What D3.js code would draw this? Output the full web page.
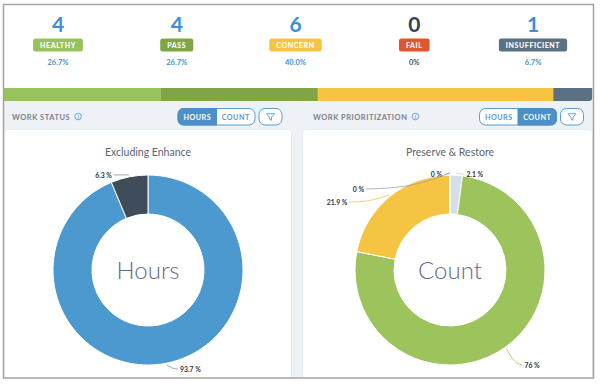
<!DOCTYPE html>
<html><head><meta charset="utf-8">
<script src="https://cdn.jsdelivr.net/npm/d3@7"></script>
<style>
html,body{margin:0;padding:0;background:#fff;}
svg{display:block;font-family:Lato,"Open Sans",sans-serif;}
</style></head>
<body><svg id="c" width="600" height="384"></svg>
<script>
// ---------- DATA ----------
const statusCategories = ["HEALTHY", "PASS", "CONCERN", "FAIL", "INSUFFICIENT"];
const statusCounts = [4, 4, 6, 0, 1];
const statusPercents = ["26.7%", "26.7%", "40.0%", "0%", "6.7%"];
const statusColors = ["#98c25b", "#7fa546", "#f6c443", "#e0572f", "#5b7183"];

const workStatusTitle = "Excluding Enhance";
const workStatusCenter = "Hours";
const workStatusValues = [93.7, 6.3];
const workStatusColors = ["#4c99cf", "#3e4d59"];

const prioritizationTitle = "Preserve & Restore";
const prioritizationCenter = "Count";
const prioritizationValues = [2.1, 76, 21.9, 0, 0];
const prioritizationColors = ["#d4dfe9", "#9dc45c", "#f6c443", "#e0572f", "#5b7183"];

const sectionTitles = ["WORK STATUS", "WORK PRIORITIZATION"];
const toggleLabels = ["HOURS", "COUNT"];

// ---------- LAYOUT (style only) ----------
const W = 600, H = 384;
const frame = {x0: 3.5, y0: 4.5, x1: 593.5, y1: 378};
const svg = d3.select("#c");

svg.append("rect").attr("x", frame.x0).attr("y", frame.y0)
  .attr("width", frame.x1 - frame.x0).attr("height", frame.y1 - frame.y0)
  .attr("fill", "#fff");
svg.append("rect").attr("x", frame.x0).attr("y", 100)
  .attr("width", frame.x1 - frame.x0).attr("height", frame.y1 - 100)
  .attr("fill", "#eef1f5");

// ---------- TOP SUMMARY ----------
const colX = d3.scalePoint().domain(statusCategories).range([58, 533]);
const summary = svg.append("g");
statusCategories.forEach((c, i) => {
  const x = colX(c);
  const zero = statusCounts[i] === 0;
  summary.append("text").attr("x", x).attr("y", 32).attr("text-anchor", "middle")
    .attr("font-size", 21).attr("font-weight", 700)
    .attr("fill", zero ? "#36434f" : "#3b8fd3").text(statusCounts[i]);
  const t = summary.append("text").attr("x", x).attr("y", 47.5).attr("text-anchor", "middle")
    .attr("font-size", 7).attr("font-weight", 900).attr("letter-spacing", 0.6)
    .attr("fill", "#fff").text(c);
  const w = t.node().getComputedTextLength() + 14;
  summary.insert("rect", () => t.node()).attr("x", x - w / 2).attr("y", 38.5)
    .attr("width", w).attr("height", 13).attr("rx", 2.5).attr("fill", statusColors[i]);
  summary.append("text").attr("x", x).attr("y", 65).attr("text-anchor", "middle")
    .attr("font-size", 7.5).attr("font-weight", 700)
    .attr("fill", zero ? "#4a5560" : "#4a92d2").text(statusPercents[i]);
});

// status bar
const total = d3.sum(statusCounts);
const barX = d3.scaleLinear().domain([0, total]).range([frame.x0 + 0.5, frame.x1 - 1]);
let cum = 0;
const barData = statusCounts.map((v, i) => { const d = {s: cum, e: cum + v, c: statusColors[i]}; cum += v; return d; });
const clip = svg.append("clipPath").attr("id", "barclip");
clip.append("path").attr("d", () => {
  const x0 = barX(0), x1 = barX(total), y0 = 88, y1 = 101, r = 4;
  return `M${x0},${y0}H${x1}V${y1 - r}Q${x1},${y1} ${x1 - r},${y1}H${x0}Z`;
});
svg.append("g").attr("clip-path", "url(#barclip)").selectAll("rect").data(barData).join("rect")
  .attr("x", d => barX(d.s)).attr("width", d => barX(d.e) - barX(d.s))
  .attr("y", 88).attr("height", 13).attr("fill", d => d.c);

// ---------- SECTION HEADERS ----------
function header(x, title, toggleX, active) {
  const g = svg.append("g");
  const t = g.append("text").attr("x", x).attr("y", 119.5).attr("font-size", 7.5)
    .attr("font-weight", 700).attr("letter-spacing", 0.5).attr("fill", "#7c8289").text(title);
  const tw = t.node().getComputedTextLength();
  const ix = x + tw + 8;
  g.append("circle").attr("cx", ix).attr("cy", 116.5).attr("r", 3.3)
    .attr("fill", "none").attr("stroke", "#5d9bd0").attr("stroke-width", 0.9);
  g.append("text").attr("x", ix).attr("y", 118.7).attr("text-anchor", "middle")
    .attr("font-size", 5).attr("font-weight", 700).attr("fill", "#5d9bd0").text("i");
  const bw = 38.5, y = 108.5, h = 16.5;
  const tg = g.append("g");
  tg.append("rect").attr("x", toggleX).attr("y", y).attr("width", bw * 2).attr("height", h)
    .attr("rx", 6).attr("fill", "#fff").attr("stroke", "#5d9bd0").attr("stroke-width", 1);
  const ax = toggleX + active * bw;
  const r = 6;
  const p = active === 0
    ? `M${ax + r},${y}H${ax + bw}V${y + h}H${ax + r}Q${ax},${y + h} ${ax},${y + h - r}V${y + r}Q${ax},${y} ${ax + r},${y}Z`
    : `M${ax},${y}H${ax + bw - r}Q${ax + bw},${y} ${ax + bw},${y + r}V${y + h - r}Q${ax + bw},${y + h} ${ax + bw - r},${y + h}H${ax}Z`;
  tg.append("path").attr("d", p).attr("fill", "#4d8fc6").attr("stroke", "#4d8fc6");
  toggleLabels.forEach((l, i) => {
    tg.append("text").attr("x", toggleX + bw * i + bw / 2).attr("y", y + 11).attr("text-anchor", "middle")
      .attr("font-size", 7.2).attr("font-weight", 700).attr("letter-spacing", 0.5)
      .attr("fill", i === active ? "#fff" : "#5d9bd0").text(l);
  });
  const fx = toggleX + bw * 2 + 4;
  g.append("rect").attr("x", fx).attr("y", y).attr("width", 23).attr("height", h).attr("rx", 6)
    .attr("fill", "#fff").attr("stroke", "#5d9bd0");
  const cx = fx + 11.5, cy = y + h / 2;
  g.append("path").attr("d", `M${cx - 4},${cy - 3}H${cx + 4}L${cx + 1},${cy + 0.5}V${cy + 3.5}L${cx - 1},${cy + 2.5}V${cy + 0.5}Z`)
    .attr("fill", "none").attr("stroke", "#5d9bd0").attr("stroke-width", 0.9).attr("stroke-linejoin", "round");
}
header(12, sectionTitles[0], 178, 0);
header(313, sectionTitles[1], 479.5, 1);

// ---------- PANELS ----------
const defs = svg.append("defs");
const f = defs.append("filter").attr("id", "sh").attr("x", "-5%").attr("y", "-5%").attr("width", "110%").attr("height", "110%");
f.append("feDropShadow").attr("dx", 0).attr("dy", 0.5).attr("stdDeviation", 1).attr("flood-color", "#000").attr("flood-opacity", 0.08);
const panels = [{x0: 4.5, x1: 291}, {x0: 303, x1: 592}];
panels.forEach(p => {
  svg.append("rect").attr("x", p.x0).attr("y", 130).attr("width", p.x1 - p.x0).attr("height", frame.y1 - 130 + 4)
    .attr("rx", 4).attr("fill", "#fff").attr("filter", "url(#sh)");
});

// ---------- DONUTS ----------
const R = 95, r0 = 56;
function donut(cx, cy, title, center, values, colors, labelOffsets) {
  const g = svg.append("g").attr("transform", `translate(${cx},${cy})`);
  svg.append("text").attr("x", cx).attr("y", 155.5).attr("text-anchor", "middle")
    .attr("font-size", 10.5).attr("fill", "#5a6570").text(title);
  const pie = d3.pie().sort(null).value(d => d)(values);
  const arc = d3.arc().innerRadius(r0).outerRadius(R);
  g.selectAll("path.s").data(pie).join("path").attr("class", "s")
    .attr("d", arc).attr("fill", (d, i) => colors[i])
    .attr("stroke", "#fff").attr("stroke-width", 1);
  g.append("text").attr("x", 0).attr("y", 9).attr("text-anchor", "middle")
    .attr("font-size", 24).attr("font-weight", 300).attr("fill", "#5f6b8a").text(center);
  const outer = d3.arc().innerRadius(R + 2).outerRadius(R + 2);
  pie.forEach((d, i) => {
    const [px, py] = outer.centroid(d);
    const o = labelOffsets[i];
    const lx = px + o.dx, ly = py + o.dy;
    const anchor = o.dx < 0 ? "end" : "start";
    const gap = o.dx < 0 ? 2 : -2;
    g.append("path")
      .attr("d", d3.line().curve(d3.curveBasis)([[px, py], [px + (o.dx) * 0.45, py + (o.dy - 3) * 0.9], [lx + gap, ly - 3]]))
      .attr("fill", "none").attr("stroke", o.line || colors[i]).attr("stroke-width", 0.8);
    g.append("text").attr("x", lx).attr("y", ly).attr("text-anchor", anchor)
      .attr("font-size", 6.8).attr("font-weight", 700).attr("fill", "#2e3338")
      .text(d3.format("")(values[i]) + " %");
  });
}
donut(148, 270, workStatusTitle, workStatusCenter, workStatusValues, workStatusColors,
  [{dx: 13, dy: 7}, {dx: -17, dy: 3, line: "#7f8c95"}]);
donut(450, 270, prioritizationTitle, prioritizationCenter, prioritizationValues, prioritizationColors,
  [{dx: 10, dy: 4, line: "#c9d4de"}, {dx: 18, dy: 19}, {dx: -41, dy: 10},
   {dx: -8, dy: 4, line: "#9aa3aa"}, {dx: -86, dy: 19, line: "#9aa3aa"}]);

// ---------- FRAME BORDER ----------
svg.append("rect").attr("x", 0).attr("y", frame.y1 + 0.75).attr("width", W).attr("height", H - frame.y1).attr("fill", "#fff");
svg.append("rect").attr("x", frame.x0).attr("y", frame.y0)
  .attr("width", frame.x1 - frame.x0).attr("height", frame.y1 - frame.y0)
  .attr("fill", "none").attr("stroke", "#a3a3a3").attr("stroke-width", 1.5);
</script></body></html>
